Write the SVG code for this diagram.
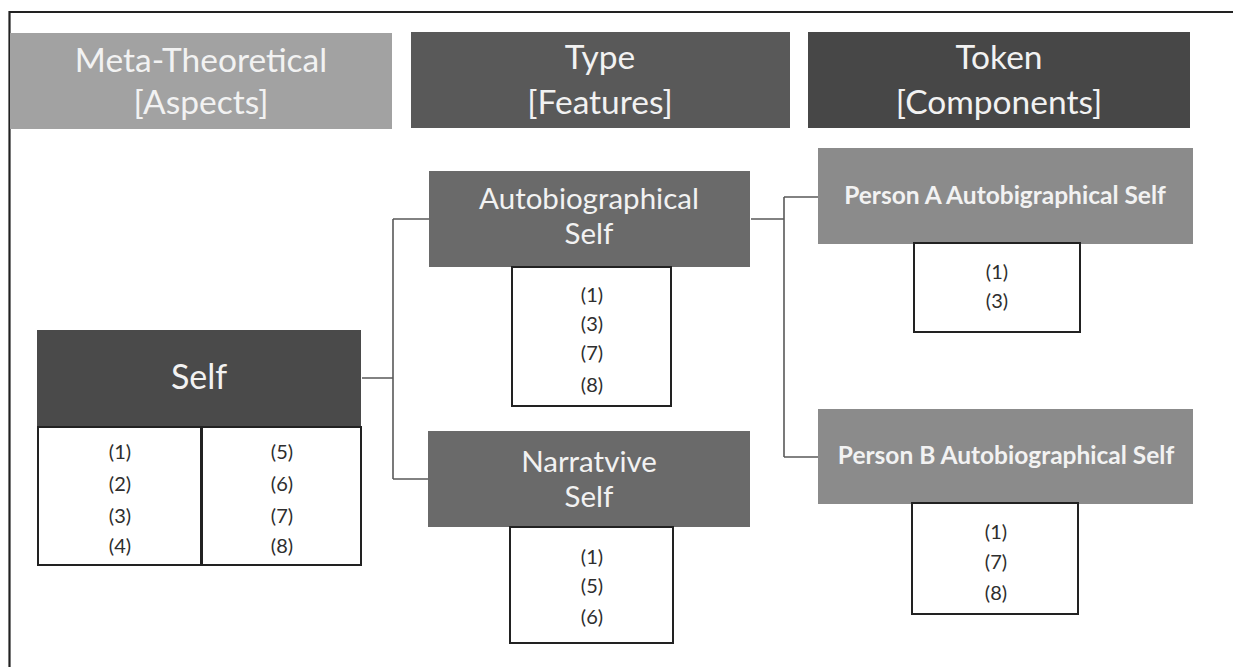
<svg xmlns="http://www.w3.org/2000/svg" width="1233" height="667" viewBox="0 0 1233 667">
<style>
.hd{font-family:Lato,"Liberation Sans",sans-serif;fill:#f2f2f2;text-anchor:middle}
.h1{font-size:33.5px}
.h2{font-size:29.5px}
.h3{font-size:24.5px;font-weight:bold}
.num{font-family:Lato,"Liberation Sans",sans-serif;font-size:20px;fill:#2e2e2e;text-anchor:middle}
.wb{fill:#fff;stroke:#222;stroke-width:2}
.cn{fill:none;stroke:#595959;stroke-width:1.6}
</style>
<rect width="1233" height="667" fill="#fff"/>
<g id="frame">
<path d="M9.5 667 V12 H1233" fill="none" stroke="#222" stroke-width="2.2"/>
</g>
<g id="hdr-meta">
<rect x="10" y="33" width="382" height="96" fill="#a2a2a2"/>
<text class="hd h1" x="201" y="72">Meta-Theoretical</text>
<text class="hd h1" x="201" y="114">[Aspects]</text>
</g>
<g id="hdr-type">
<rect x="411" y="32" width="379" height="96" fill="#595959"/>
<text class="hd h1" x="600" y="69">Type</text>
<text class="hd h1" x="600" y="114">[Features]</text>
</g>
<g id="hdr-token">
<rect x="808" y="32" width="382" height="96" fill="#474747"/>
<text class="hd h1" x="999" y="69">Token</text>
<text class="hd h1" x="999" y="114">[Components]</text>
</g>
<g id="connectors">
<path class="cn" d="M362 378 H393 M393 219 V479 M393 219 H429 M393 479 H428"/>
<path class="cn" d="M751 219 H784 M784 197 V457 M784 197 H818 M784 457 H818"/>
</g>
<g id="self">
<rect x="37" y="330" width="324" height="97" fill="#4a4a4a"/>
<text class="hd" style="font-size:34px" x="199" y="389">Self</text>
<rect class="wb" x="38" y="427" width="163" height="138"/>
<rect class="wb" x="202" y="427" width="159" height="138"/>
<text class="num" x="120" y="459">(1)</text>
<text class="num" x="120" y="491">(2)</text>
<text class="num" x="120" y="523">(3)</text>
<text class="num" x="120" y="553">(4)</text>
<text class="num" x="282" y="459">(5)</text>
<text class="num" x="282" y="491">(6)</text>
<text class="num" x="282" y="523">(7)</text>
<text class="num" x="282" y="553">(8)</text>
</g>
<g id="autobiographical">
<rect x="429" y="171" width="321" height="96" fill="#6a6a6a"/>
<text class="hd h2" x="589" y="209">Autobiographical</text>
<text class="hd h2" x="589" y="244">Self</text>
<rect class="wb" x="512" y="267" width="159" height="139"/>
<text class="num" x="592" y="302">(1)</text>
<text class="num" x="592" y="331">(3)</text>
<text class="num" x="592" y="360">(7)</text>
<text class="num" x="592" y="392">(8)</text>
</g>
<g id="narrative">
<rect x="428" y="431" width="322" height="96" fill="#6a6a6a"/>
<text class="hd h2" x="589" y="472">Narratvive</text>
<text class="hd h2" x="589" y="507">Self</text>
<rect class="wb" x="510" y="527" width="163" height="116"/>
<text class="num" x="592" y="564">(1)</text>
<text class="num" x="592" y="593">(5)</text>
<text class="num" x="592" y="624">(6)</text>
</g>
<g id="personA">
<rect x="818" y="148" width="375" height="96" fill="#8b8b8b"/>
<text class="hd h3" x="1005" y="204">Person A Autobigraphical Self</text>
<rect class="wb" x="914" y="243" width="166" height="89"/>
<text class="num" x="997" y="279">(1)</text>
<text class="num" x="997" y="308">(3)</text>
</g>
<g id="personB">
<rect x="818" y="409" width="375" height="95" fill="#8b8b8b"/>
<text class="hd h3" x="1006" y="464">Person B Autobiographical Self</text>
<rect class="wb" x="912" y="503" width="166" height="111"/>
<text class="num" x="996" y="539">(1)</text>
<text class="num" x="996" y="569">(7)</text>
<text class="num" x="996" y="600">(8)</text>
</g>
</svg>
